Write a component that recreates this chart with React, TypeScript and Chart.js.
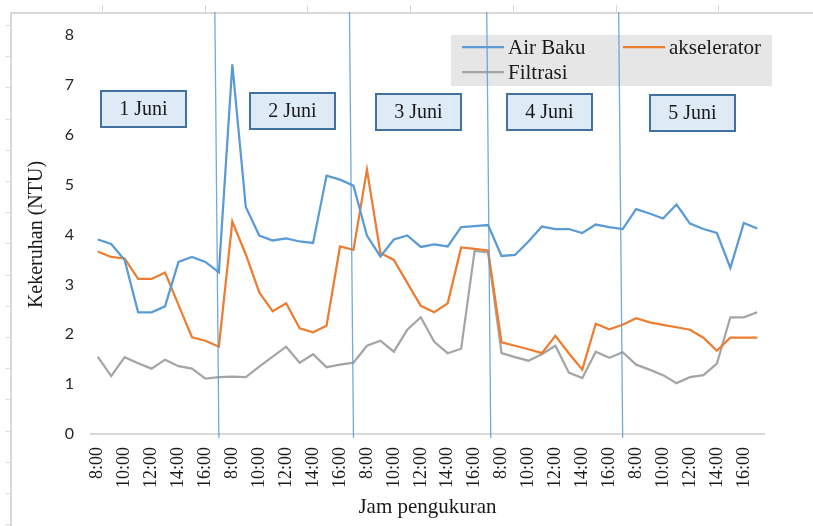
import React, { useEffect, useRef } from "react";
import { Chart, registerables } from "chart.js";

Chart.register(...registerables);

// ---------- data ----------
const days = ["1 Juni", "2 Juni", "3 Juni", "4 Juni", "5 Juni"];
const hours = ["8:00", "9:00", "10:00", "11:00", "12:00", "13:00", "14:00", "15:00", "16:00", "17:00"];

const airBaku = [
  3.9, 3.81, 3.49, 2.44, 2.44, 2.56, 3.45, 3.55, 3.45, 3.24,
  7.41, 4.55, 3.98, 3.88, 3.92, 3.86, 3.83, 5.18, 5.1, 4.98,
  3.98, 3.56, 3.9, 3.98, 3.75, 3.8, 3.76, 4.15, 4.17, 4.19,
  3.57, 3.59, 3.86, 4.16, 4.11, 4.11, 4.03, 4.2, 4.15, 4.11,
  4.51, 4.42, 4.32, 4.6, 4.22, 4.11, 4.03, 3.33, 4.23, 4.12,
];
const akselerator = [
  3.66, 3.55, 3.52, 3.11, 3.11, 3.24, 2.59, 1.94, 1.87, 1.75,
  4.26, 3.6, 2.84, 2.46, 2.62, 2.12, 2.04, 2.17, 3.76, 3.69,
  5.3, 3.63, 3.49, 3.03, 2.57, 2.44, 2.62, 3.74, 3.71, 3.68,
  1.84, 1.77, 1.7, 1.62, 1.97, 1.62, 1.29, 2.21, 2.1, 2.19,
  2.32, 2.24, 2.19, 2.14, 2.09, 1.93, 1.67, 1.93, 1.93, 1.93,
];
const filtrasi = [
  1.55, 1.16, 1.54, 1.42, 1.31, 1.49, 1.36, 1.31, 1.11, 1.14,
  1.15, 1.14, 1.35, 1.55, 1.75, 1.43, 1.6, 1.34, 1.39, 1.43,
  1.77, 1.87, 1.65, 2.09, 2.34, 1.85, 1.62, 1.71, 3.67, 3.64,
  1.62, 1.54, 1.47, 1.6, 1.77, 1.23, 1.12, 1.65, 1.53, 1.64,
  1.39, 1.29, 1.18, 1.02, 1.14, 1.18, 1.41, 2.34, 2.34, 2.44,
];
const seriesNames = ["Air Baku", "akselerator", "Filtrasi"];
const yMin = 0;
const yMax = 8;
const yStep = 1;
// day separators drawn at the last hour of each of the first four days
const separatorIndex = [9, 19, 29.2, 39];

const labels = days.flatMap(() => hours);

const W = 813;
const H = 526;
const BLUE = "#5b9bd5";
const ORANGE = "#ed7d31";
const GRAY = "#a5a5a5";
const SERIF = "'Liberation Serif', 'Times New Roman', serif";

const overlay = {
  id: "overlay",
  beforeDraw(chart: any) {
    const ctx = chart.ctx;
    ctx.save();
    ctx.fillStyle = "#ffffff";
    ctx.fillRect(0, 0, W, H);
    ctx.strokeStyle = "#d9d9d9";
    ctx.lineWidth = 2;
    ctx.beginPath();
    ctx.moveTo(11, H);
    ctx.lineTo(11, 13);
    ctx.lineTo(W, 13);
    ctx.stroke();
    ctx.lineWidth = 1;
    ctx.beginPath();
    for (let x = 102; x < W; x += 102.7) {
      ctx.moveTo(Math.round(x) + 0.5, 5);
      ctx.lineTo(Math.round(x) + 0.5, 13);
    }
    for (let y = 25; y < H; y += 31.2) {
      ctx.moveTo(6, Math.round(y) + 0.5);
      ctx.lineTo(11, Math.round(y) + 0.5);
    }
    ctx.stroke();
    ctx.restore();
  },
  afterDraw(chart: any) {
    const ctx = chart.ctx;
    const xs = chart.scales.x;
    ctx.save();
    // legend
    ctx.fillStyle = "#e6e6e6";
    ctx.fillRect(451, 35, 321, 51);
    ctx.font = `21px ${SERIF}`;
    ctx.textBaseline = "middle";
    ctx.textAlign = "left";
    const items = [
      { name: seriesNames[0], color: BLUE, x: 462, y: 48 },
      { name: seriesNames[1], color: ORANGE, x: 623, y: 48 },
      { name: seriesNames[2], color: GRAY, x: 462, y: 73 },
    ];
    for (const it of items) {
      ctx.strokeStyle = it.color;
      ctx.lineWidth = 2.25;
      ctx.beginPath();
      ctx.moveTo(it.x, it.y - 1);
      ctx.lineTo(it.x + 42, it.y - 1);
      ctx.stroke();
      ctx.fillStyle = "#1a1a1a";
      ctx.fillText(it.name, it.x + 46, it.y);
    }
    // day boxes
    const boxes = [
      [101, 91],
      [250, 93],
      [376, 94],
      [507, 94],
      [650, 95],
    ];
    ctx.font = `20px ${SERIF}`;
    ctx.textAlign = "center";
    boxes.forEach(([bx, by], i) => {
      ctx.fillStyle = "#deebf7";
      ctx.fillRect(bx, by, 85, 36);
      ctx.strokeStyle = "#41719c";
      ctx.lineWidth = 2;
      ctx.strokeRect(bx, by, 85, 36);
      ctx.fillStyle = "#1a1a1a";
      ctx.fillText(days[i], bx + 42.5, by + 19);
    });
    // separators
    ctx.strokeStyle = "rgba(91,155,213,0.85)";
    ctx.lineWidth = 1.3;
    for (const idx of separatorIndex) {
      const xb = xs.getPixelForValue(idx);
      ctx.beginPath();
      ctx.moveTo(xb - 4, 12);
      ctx.lineTo(xb, 438);
      ctx.stroke();
    }
    ctx.restore();
  },
};

export default function App() {
  const ref = useRef<HTMLCanvasElement | null>(null);
  useEffect(() => {
    if (!ref.current) return;
    const chart = new Chart(ref.current, {
      type: "line",
      data: {
        labels,
        datasets: [
          { label: seriesNames[0], data: airBaku, borderColor: BLUE },
          { label: seriesNames[1], data: akselerator, borderColor: ORANGE },
          { label: seriesNames[2], data: filtrasi, borderColor: GRAY },
        ].map((d) => ({
          ...d,
          borderWidth: 2.25,
          pointRadius: 0,
          tension: 0,
          fill: false,
        })),
      },
      options: {
        animation: false,
        responsive: false,
        layout: { padding: { top: 35, right: 49, left: 0, bottom: 0 } },
        plugins: { legend: { display: false }, tooltip: { enabled: false } },
        scales: {
          x: {
            type: "category",
            offset: true,
            grid: { display: false, drawTicks: false },
            border: { display: true, color: "#d9d9d9", width: 2 },
            ticks: {
              autoSkip: false,
              maxRotation: 90,
              minRotation: 90,
              padding: 13,
              color: "#1a1a1a",
              font: { family: SERIF, size: 18 },
              callback: (_v: any, i: number) => (i % 2 === 0 ? labels[i] : ""),
            },
            title: {
              display: true,
              text: "Jam pengukuran",
              color: "#1a1a1a",
              font: { family: SERIF, size: 21 },
              padding: { top: 0, bottom: 6 },
            },
            afterFit: (s: any) => {
              s.height = 92;
            },
          },
          y: {
            min: yMin,
            max: yMax,
            grid: { display: false, drawTicks: false },
            border: { display: false },
            ticks: {
              stepSize: yStep,
              padding: 17,
              color: "#262626",
              font: { family: "Lato", size: 16 },
            },
            title: {
              display: true,
              text: "Kekeruhan (NTU)",
              color: "#1a1a1a",
              font: { family: SERIF, size: 20 },
              padding: { top: 25, bottom: 0 },
            },
            afterFit: (s: any) => {
              s.width = 91;
            },
          },
        },
      } as any,
      plugins: [overlay],
    });
    return () => chart.destroy();
  }, []);
  return (
    <div style={{ position: "fixed", left: 0, top: 0, width: W, height: H, background: "#fff" }}>
      <canvas ref={ref} width={W} height={H} style={{ display: "block" }} />
    </div>
  );
}
